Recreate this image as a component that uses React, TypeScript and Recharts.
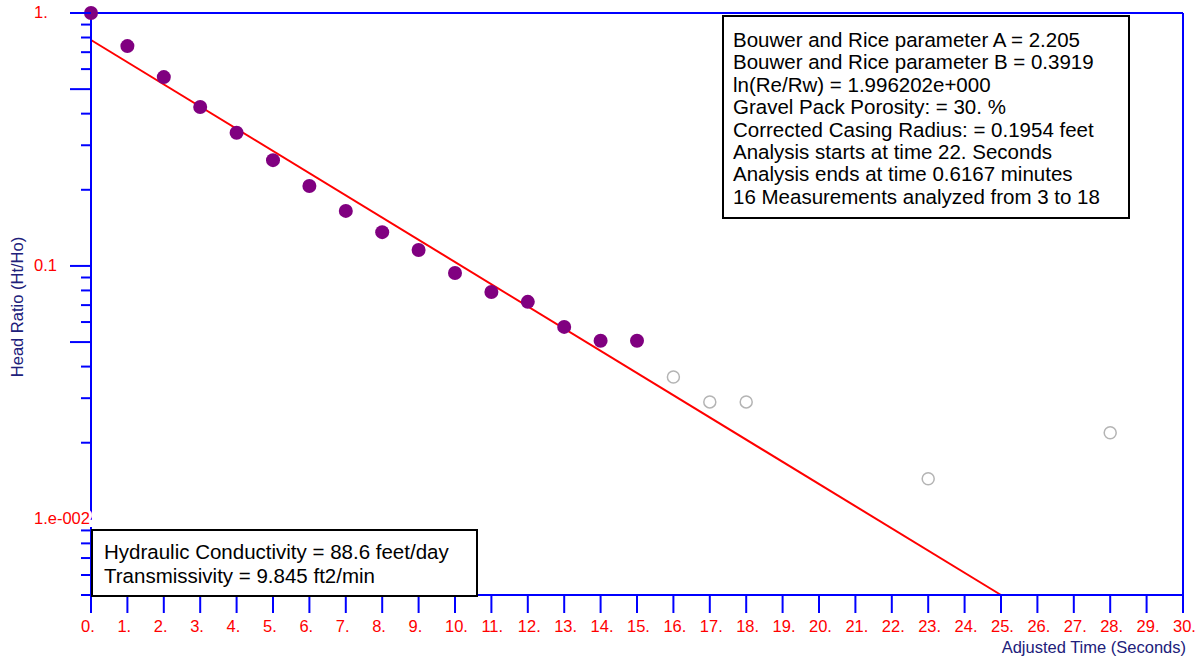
import { ComposedChart, Scatter, Line, XAxis, YAxis, ReferenceLine } from 'recharts';

// measured head ratios used in the fit (points 3..18)
const usedTimes = [0, 1, 2, 3, 4, 5, 6, 7, 8, 9, 10, 11, 12, 13, 14, 15];
const usedRatios = [1.0, 0.74, 0.558, 0.425, 0.336, 0.262, 0.207, 0.165, 0.136, 0.1156, 0.0938, 0.0789, 0.0721, 0.0574, 0.0506, 0.0506];

// measurements left out of the analysis
const skippedTimes = [16, 17, 18, 23, 28];
const skippedRatios = [0.0364, 0.029, 0.029, 0.0144, 0.0219];

// Bouwer-Rice straight line fit (start / end)
const fitTimes = [0, 25];
const fitRatios = [0.782, 0.005];

const xTicks = Array.from({ length: 31 }, (_, i) => i);
const yTicks = [1, 0.9, 0.8, 0.7, 0.6, 0.5, 0.4, 0.3, 0.2, 0.1, 0.09, 0.08, 0.07, 0.06, 0.05, 0.04, 0.03, 0.02, 0.01, 0.009, 0.008, 0.007, 0.006, 0.005];
const yMajor = [1, 0.5, 0.1, 0.05, 0.01];
const yLabels: Record<string, string> = { '1': '1.', '0.1': '0.1', '0.01': '1.e-002' };

const topNotes = [
  'Bouwer and Rice parameter A = 2.205',
  'Bouwer and Rice parameter B = 0.3919',
  'ln(Re/Rw) = 1.996202e+000',
  'Gravel Pack Porosity: = 30. %',
  'Corrected Casing Radius: = 0.1954 feet',
  'Analysis starts at time 22. Seconds',
  'Analysis ends at time 0.6167 minutes',
  '16 Measurements analyzed from 3 to 18',
];
const bottomNotes = ['Hydraulic Conductivity = 88.6 feet/day', 'Transmissivity = 9.845 ft2/min'];

const used = usedTimes.map((t, i) => ({ t, r: usedRatios[i] }));
const skipped = skippedTimes.map((t, i) => ({ t, r: skippedRatios[i] }));
const fit = fitTimes.map((t, i) => ({ t, r: fitRatios[i] }));

const FONT = '"Liberation Sans", Arial, sans-serif';
const BLUE = '#0000ff';
const RED = '#ff0000';
const NAVY = '#20207a';
const tickText = { fontSize: '16.5px', fontFamily: FONT };

const YTick = (props: any) => {
  const { x, y, payload } = props;
  const v = payload.value;
  const major = yMajor.some(m => Math.abs(m - v) < 1e-9);
  const label = yLabels[String(v)];
  return (
    <g>
      <line x1={x} x2={x - (major ? 21 : 10)} y1={y} y2={y} stroke={BLUE} strokeWidth={2} />
      {label && (
        <text x={x - 57} y={y + 5} fill={RED} textAnchor="start"
          style={{ ...tickText, paintOrder: 'stroke' }} stroke="#fff" strokeWidth={label.length > 3 ? 6 : 0}>
          {label}
        </text>
      )}
    </g>
  );
};

const XTick = (props: any) => {
  const { x, y, payload } = props;
  return (
    <g>
      <line x1={x} x2={x} y1={y} y2={y + 18} stroke={BLUE} strokeWidth={2} />
      <text x={x - 10} y={y + 37} fill={RED} textAnchor="start" style={tickText}>
        {`${payload.value}.`}
      </text>
    </g>
  );
};

const App = () => {
  return (
    <div style={{ position: 'absolute', left: 0, top: 0, width: 1199, height: 660, background: '#fff' }}>
      <ComposedChart width={1199} height={660} margin={{ top: 13, right: 16, left: 0, bottom: 0 }}>
        <XAxis type="number" dataKey="t" domain={[0, 30]} ticks={xTicks} interval={0}
          height={65} tickSize={0} tickMargin={0} tick={<XTick />} tickLine={false}
          axisLine={{ stroke: BLUE, strokeWidth: 2 }} />
        <YAxis type="number" dataKey="r" scale="log" domain={[0.005, 1]} ticks={yTicks} interval={0}
          width={91} tickSize={0} tickMargin={0} tick={<YTick />} tickLine={false}
          axisLine={{ stroke: BLUE, strokeWidth: 2 }} />
        <ReferenceLine y={1} stroke={BLUE} strokeWidth={2} />
        <ReferenceLine x={30} stroke={BLUE} strokeWidth={2} />
        <Line data={fit} dataKey="r" stroke={RED} strokeWidth={2} dot={false} isAnimationActive={false} />
        <Scatter data={skipped} dataKey="r" isAnimationActive={false}
          shape={(p: any) => <circle cx={p.cx} cy={p.cy} r={6} fill="#fff" stroke="#b4b4b4" strokeWidth={1.5} />} />
        <Scatter data={used} dataKey="r" isAnimationActive={false}
          shape={(p: any) => <circle cx={p.cx} cy={p.cy} r={7} fill="#800080" />} />
      </ComposedChart>

      <div style={{ position: 'absolute', left: 3, top: 307, transform: 'translate(-50%, -50%) rotate(-90deg)', marginLeft: 14,
        whiteSpace: 'nowrap', color: NAVY, fontSize: 16.5, fontFamily: FONT }}>
        Head Ratio (Ht/Ho)
      </div>
      <div style={{ position: 'absolute', right: 13, top: 638, whiteSpace: 'nowrap', color: NAVY, fontSize: 16.5, fontFamily: FONT }}>
        Adjusted Time (Seconds)
      </div>

      <div style={{ position: 'absolute', left: 722, top: 15, width: 404, height: 200, border: '2px solid #000', background: '#fff',
        boxSizing: 'content-box', fontFamily: FONT, fontSize: 20.5, lineHeight: '22.4px', color: '#000' }}>
        <div style={{ paddingLeft: 9, paddingTop: 12 }}>
          {topNotes.map(s => <div key={s} style={{ whiteSpace: 'nowrap' }}>{s}</div>)}
        </div>
      </div>
      <div style={{ position: 'absolute', left: 91, top: 529, width: 383, height: 64, border: '2px solid #000', background: '#fff',
        boxSizing: 'content-box', fontFamily: FONT, fontSize: 20.5, lineHeight: '24px', color: '#000' }}>
        <div style={{ paddingLeft: 11, paddingTop: 9 }}>
          {bottomNotes.map(s => <div key={s} style={{ whiteSpace: 'nowrap' }}>{s}</div>)}
        </div>
      </div>
    </div>
  );
};

export default App;
